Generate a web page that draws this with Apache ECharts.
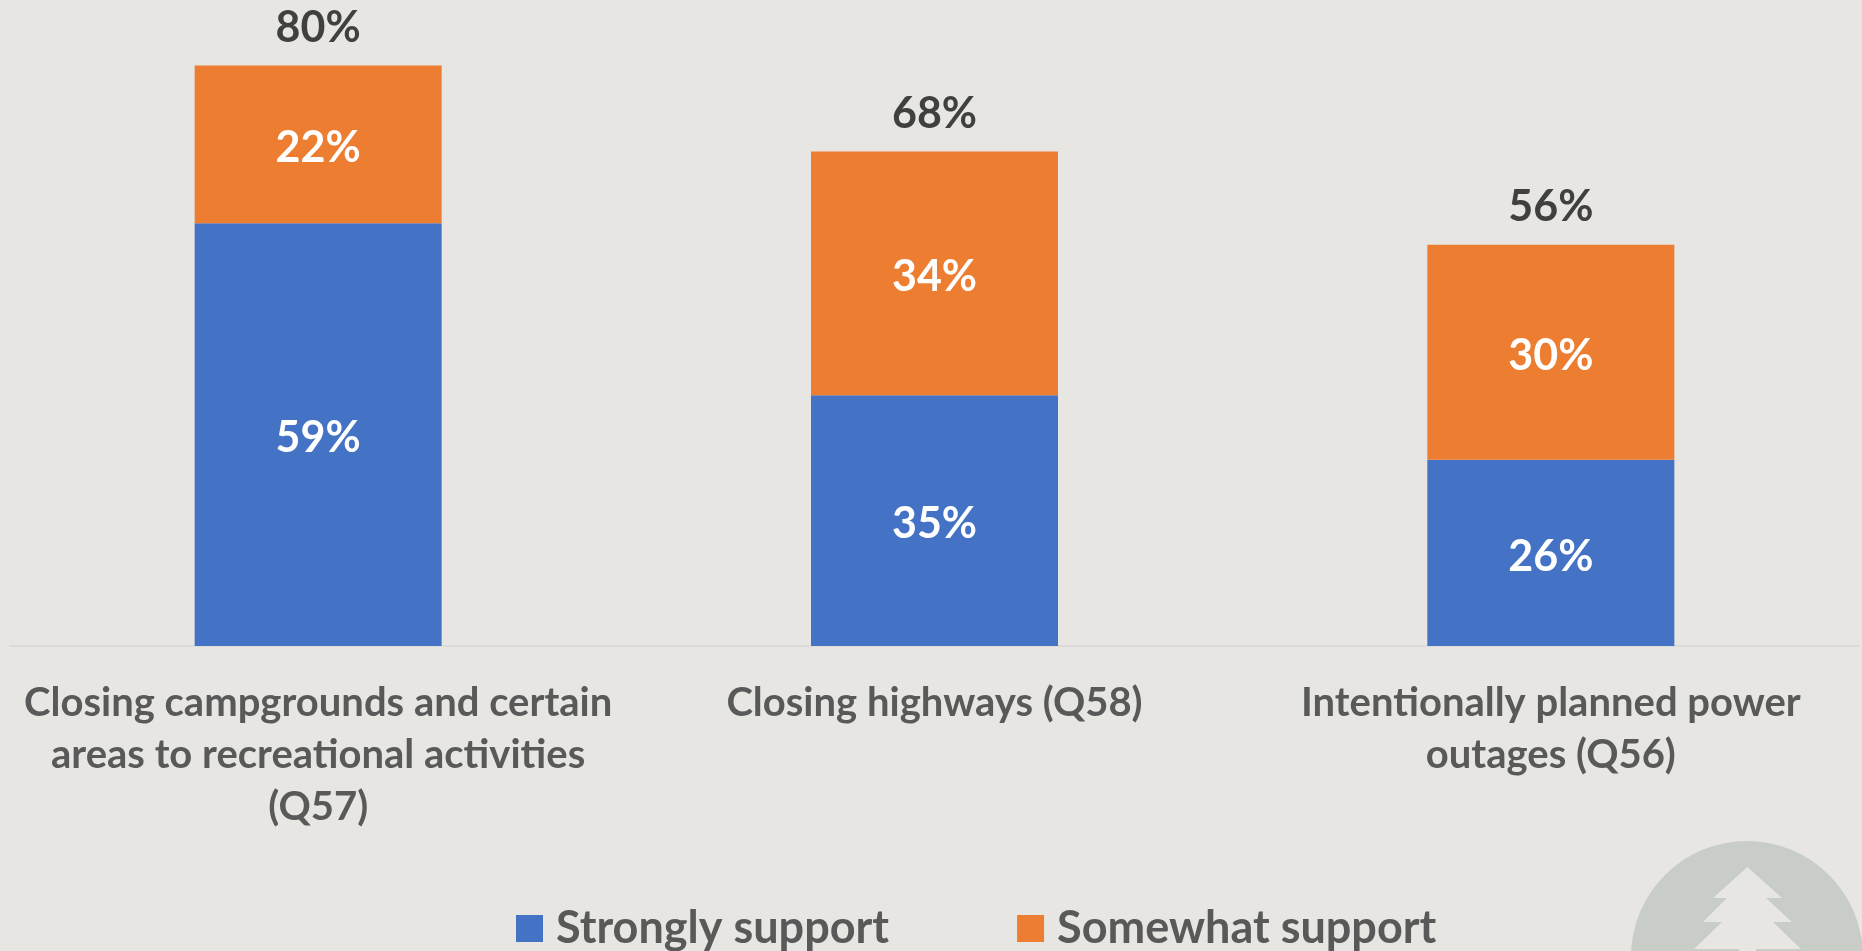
<!DOCTYPE html>
<html>
<head>
<meta charset="utf-8">
<style>html,body{margin:0;padding:0;background:#e7e6e2}#chart{width:1862px;height:951px}</style>
<script src="https://cdn.jsdelivr.net/npm/echarts@6/dist/echarts.min.js"></script>
</head>
<body>
<div id="chart"></div>
<script>
const categories = [
  'Closing campgrounds and certain\nareas to recreational activities\n(Q57)',
  'Closing highways (Q58)',
  'Intentionally planned power\noutages (Q56)'
];
const stronglySupport = [59, 35, 26];
const somewhatSupport = [22, 34, 30];
const totalLabels = ['80%', '68%', '56%'];
const seriesNames = ['Strongly support', 'Somewhat support'];

const FONT = 'Lato, "Noto Sans", sans-serif';
const BG = '#e7e6e2';
const SEAL = '#c8cdc8';

const pct = p => p.value + '%';

const chart = echarts.init(document.getElementById('chart'), null, { renderer: 'canvas' });
chart.setOption({
  backgroundColor: BG,
  animation: false,
  grid: { left: 10, right: 3, top: 1, bottom: 305, containLabel: false },
  legend: {
    data: seriesNames,
    left: 511,
    top: 901,
    itemWidth: 27,
    itemHeight: 27,
    itemGap: 128,
    icon: 'rect',
    textStyle: { fontFamily: FONT, fontWeight: 'bold', fontSize: 45, color: '#595959', padding: [0, 0, 0, 8] }
  },
  xAxis: {
    type: 'category',
    data: categories,
    axisTick: { show: false },
    axisLine: { lineStyle: { color: '#dcdbd9', width: 2 } },
    axisLabel: {
      interval: 0,
      margin: 31,
      fontFamily: FONT,
      fontWeight: 'bold',
      fontSize: 40,
      lineHeight: 52,
      color: '#595959',
      align: 'center'
    }
  },
  yAxis: { type: 'value', min: 0, max: 90, show: false, splitLine: { show: false } },
  series: [
    {
      name: seriesNames[0], type: 'bar', stack: 'support', barWidth: 247,
      data: stronglySupport,
      itemStyle: { color: '#4472c4' },
      label: { show: true, position: 'inside', offset: [0, 4], formatter: pct, fontFamily: FONT, fontWeight: 'bold', fontSize: 43, color: '#fff' }
    },
    {
      name: seriesNames[1], type: 'bar', stack: 'support', barWidth: 247,
      data: somewhatSupport,
      itemStyle: { color: '#ed7d31' },
      label: { show: true, position: 'inside', offset: [0, 4], formatter: pct, fontFamily: FONT, fontWeight: 'bold', fontSize: 43, color: '#fff' }
    },
    {
      // Zero-height cap on each stack that carries the printed total
      name: 'Total', type: 'bar', stack: 'support', barWidth: 247,
      data: [0, 0, 0],
      itemStyle: { color: 'transparent' },
      label: {
        show: true, position: 'top', distance: 16,
        formatter: p => totalLabels[p.dataIndex],
        fontFamily: FONT, fontWeight: 'bold', fontSize: 43, color: '#404040'
      }
    }
  ],
  graphic: [
    // Corner seal: disc with a pine tree cut out
    {
      type: 'circle', silent: true, z: 0,
      shape: { cx: 1747, cy: 957, r: 116 },
      style: { fill: SEAL }
    },
    {
      type: 'polygon', silent: true, z: 1,
      shape: {
        points: [
          [1747.5, 867], [1782, 898], [1766, 898], [1792, 922], [1773, 922], [1801, 949],
          [1756, 949], [1756, 951], [1739, 951], [1739, 949], [1694, 949], [1722, 922],
          [1703, 922], [1727, 898], [1713, 898]
        ]
      },
      style: { fill: BG }
    }
  ]
});
</script>
</body>
</html>
